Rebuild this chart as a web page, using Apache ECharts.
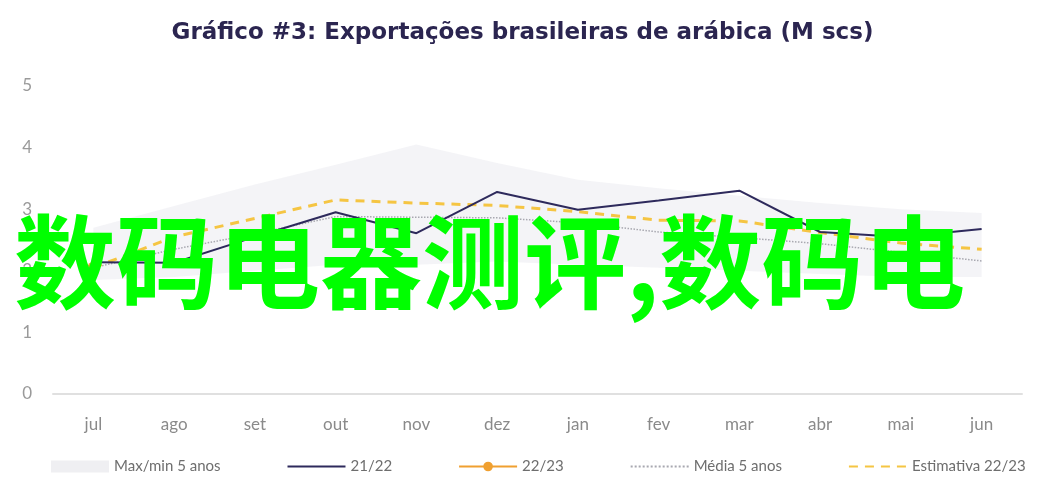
<!DOCTYPE html>
<html>
<head>
<meta charset="utf-8">
<script src="https://cdn.jsdelivr.net/npm/echarts@6/dist/echarts.min.js"></script>
<style>
  html, body { margin: 0; padding: 0; background: #fff; }
  #wrap { width: 1045px; height: 499px; box-sizing: border-box; border: 2px solid #000; position: relative; }
  #chart { position: absolute; left: -2px; top: -2px; width: 1045px; height: 499px; }
</style>
</head>
<body>
<div id="wrap"><div id="chart"></div></div>
<script>
// 月份
const months = ['jul', 'ago', 'set', 'out', 'nov', 'dez', 'jan', 'fev', 'mar', 'abr', 'mai', 'jun'];
const yTicks = [0, 1, 2, 3, 4, 5];

// 系列数据 (M scs)
const safra2122 = [2.14, 2.13, 2.55, 2.95, 2.61, 3.28, 2.99, 3.14, 3.30, 2.63, 2.55, 2.68];
const safra2223 = [2.05, null, null, null, null, null, null, null, null, null, null, null];
const media5 = [2.05, 2.35, 2.60, 2.88, 2.87, 2.86, 2.78, 2.63, 2.54, 2.44, 2.30, 2.16];
const estimativa = [2.05, 2.55, 2.85, 3.15, 3.10, 3.06, 2.96, 2.82, 2.81, 2.62, 2.45, 2.35];
const max5 = [2.70, 3.05, 3.40, 3.72, 4.05, 3.75, 3.48, 3.34, 3.22, 3.10, 3.00, 2.94];
const min5 = [1.85, 1.90, 2.00, 2.10, 2.10, 2.15, 2.10, 2.05, 2.00, 1.95, 1.90, 1.90];

const faixa = max5.map((v, i) => +(v - min5[i]).toFixed(2));

const chart = echarts.init(document.getElementById('chart'));

// 图例里只画线, 不画点
const noDot = { opacity: 0 };

const option = {
  backgroundColor: '#fff',
  animation: false,
  title: {
    text: 'Gráfico #3: Exportações brasileiras de arábica (M scs)',
    left: 'center',
    top: 17,
    textStyle: { fontFamily: 'DejaVu Sans', fontWeight: 'bold', fontSize: 23, color: '#2b2550' }
  },
  legend: {
    bottom: 20,
    left: 46,
    itemWidth: 58,
    itemHeight: 12,
    itemGap: 66,
    textStyle: { fontFamily: 'Lato', fontSize: 15, color: '#6e6e6e' },
    data: [
      { name: 'Max/min 5 anos', icon: 'rect', itemStyle: { color: '#efeff2' } },
      { name: '21/22', itemStyle: noDot },
      { name: '22/23' },
      { name: 'Média 5 anos', itemStyle: noDot },
      { name: 'Estimativa 22/23', itemStyle: noDot }
    ]
  },
  grid: { left: 53, right: 23, top: 86, bottom: 105 },
  xAxis: {
    type: 'category',
    data: months,
    boundaryGap: true,
    axisLine: { show: true, lineStyle: { color: '#e0e0e0', width: 2 } },
    axisTick: { show: false },
    axisLabel: { fontFamily: 'Lato', fontSize: 17, color: '#8a8a8a', margin: 22 }
  },
  yAxis: {
    type: 'value',
    min: yTicks[0],
    max: yTicks[yTicks.length - 1],
    interval: 1,
    axisLine: { show: false },
    axisTick: { show: false },
    splitLine: { show: false },
    axisLabel: { fontFamily: 'Lato', fontSize: 17, color: '#9a9a9a', margin: 21 }
  },
  series: [
    {
      name: 'min',
      type: 'line',
      stack: 'faixa',
      data: min5,
      symbol: 'none',
      lineStyle: { opacity: 0 },
      silent: true,
      z: 1
    },
    {
      name: 'Max/min 5 anos',
      type: 'line',
      stack: 'faixa',
      data: faixa,
      symbol: 'none',
      itemStyle: { color: '#efeff2' },
      lineStyle: { opacity: 0 },
      areaStyle: { color: '#f0f0f3' },
      z: 1
    },
    {
      name: 'Média 5 anos',
      type: 'line',
      data: media5,
      symbol: 'none',
      itemStyle: { color: '#a8a8b0' },
      lineStyle: { color: '#a8a8b0', width: 1.5, type: 'dotted' },
      z: 3
    },
    {
      name: 'Estimativa 22/23',
      type: 'line',
      data: estimativa,
      symbol: 'none',
      itemStyle: { color: '#f5c543' },
      lineStyle: { color: '#f5c543', width: 3, type: [9, 7] },
      z: 4
    },
    {
      name: '21/22',
      type: 'line',
      data: safra2122,
      symbol: 'none',
      itemStyle: { color: '#2e2a5c' },
      lineStyle: { color: '#2e2a5c', width: 2 },
      z: 5
    },
    {
      name: '22/23',
      type: 'line',
      data: safra2223,
      symbol: 'circle',
      symbolSize: 12,
      itemStyle: { color: '#f0a030' },
      lineStyle: { color: '#f0a030', width: 3 },
      z: 6
    }
  ],
  graphic: [
    {
      type: 'text',
      left: 14,
      top: 211,
      z: 100,
      style: {
        text: '数码电器测评,数码电',
        fontFamily: 'Noto Sans CJK SC',
        fontWeight: 'bold',
        fontSize: 102,
        fill: '#00ff00'
      }
    }
  ]
};

chart.setOption(option);
window.addEventListener('resize', () => chart.resize());
</script>
</body>
</html>
